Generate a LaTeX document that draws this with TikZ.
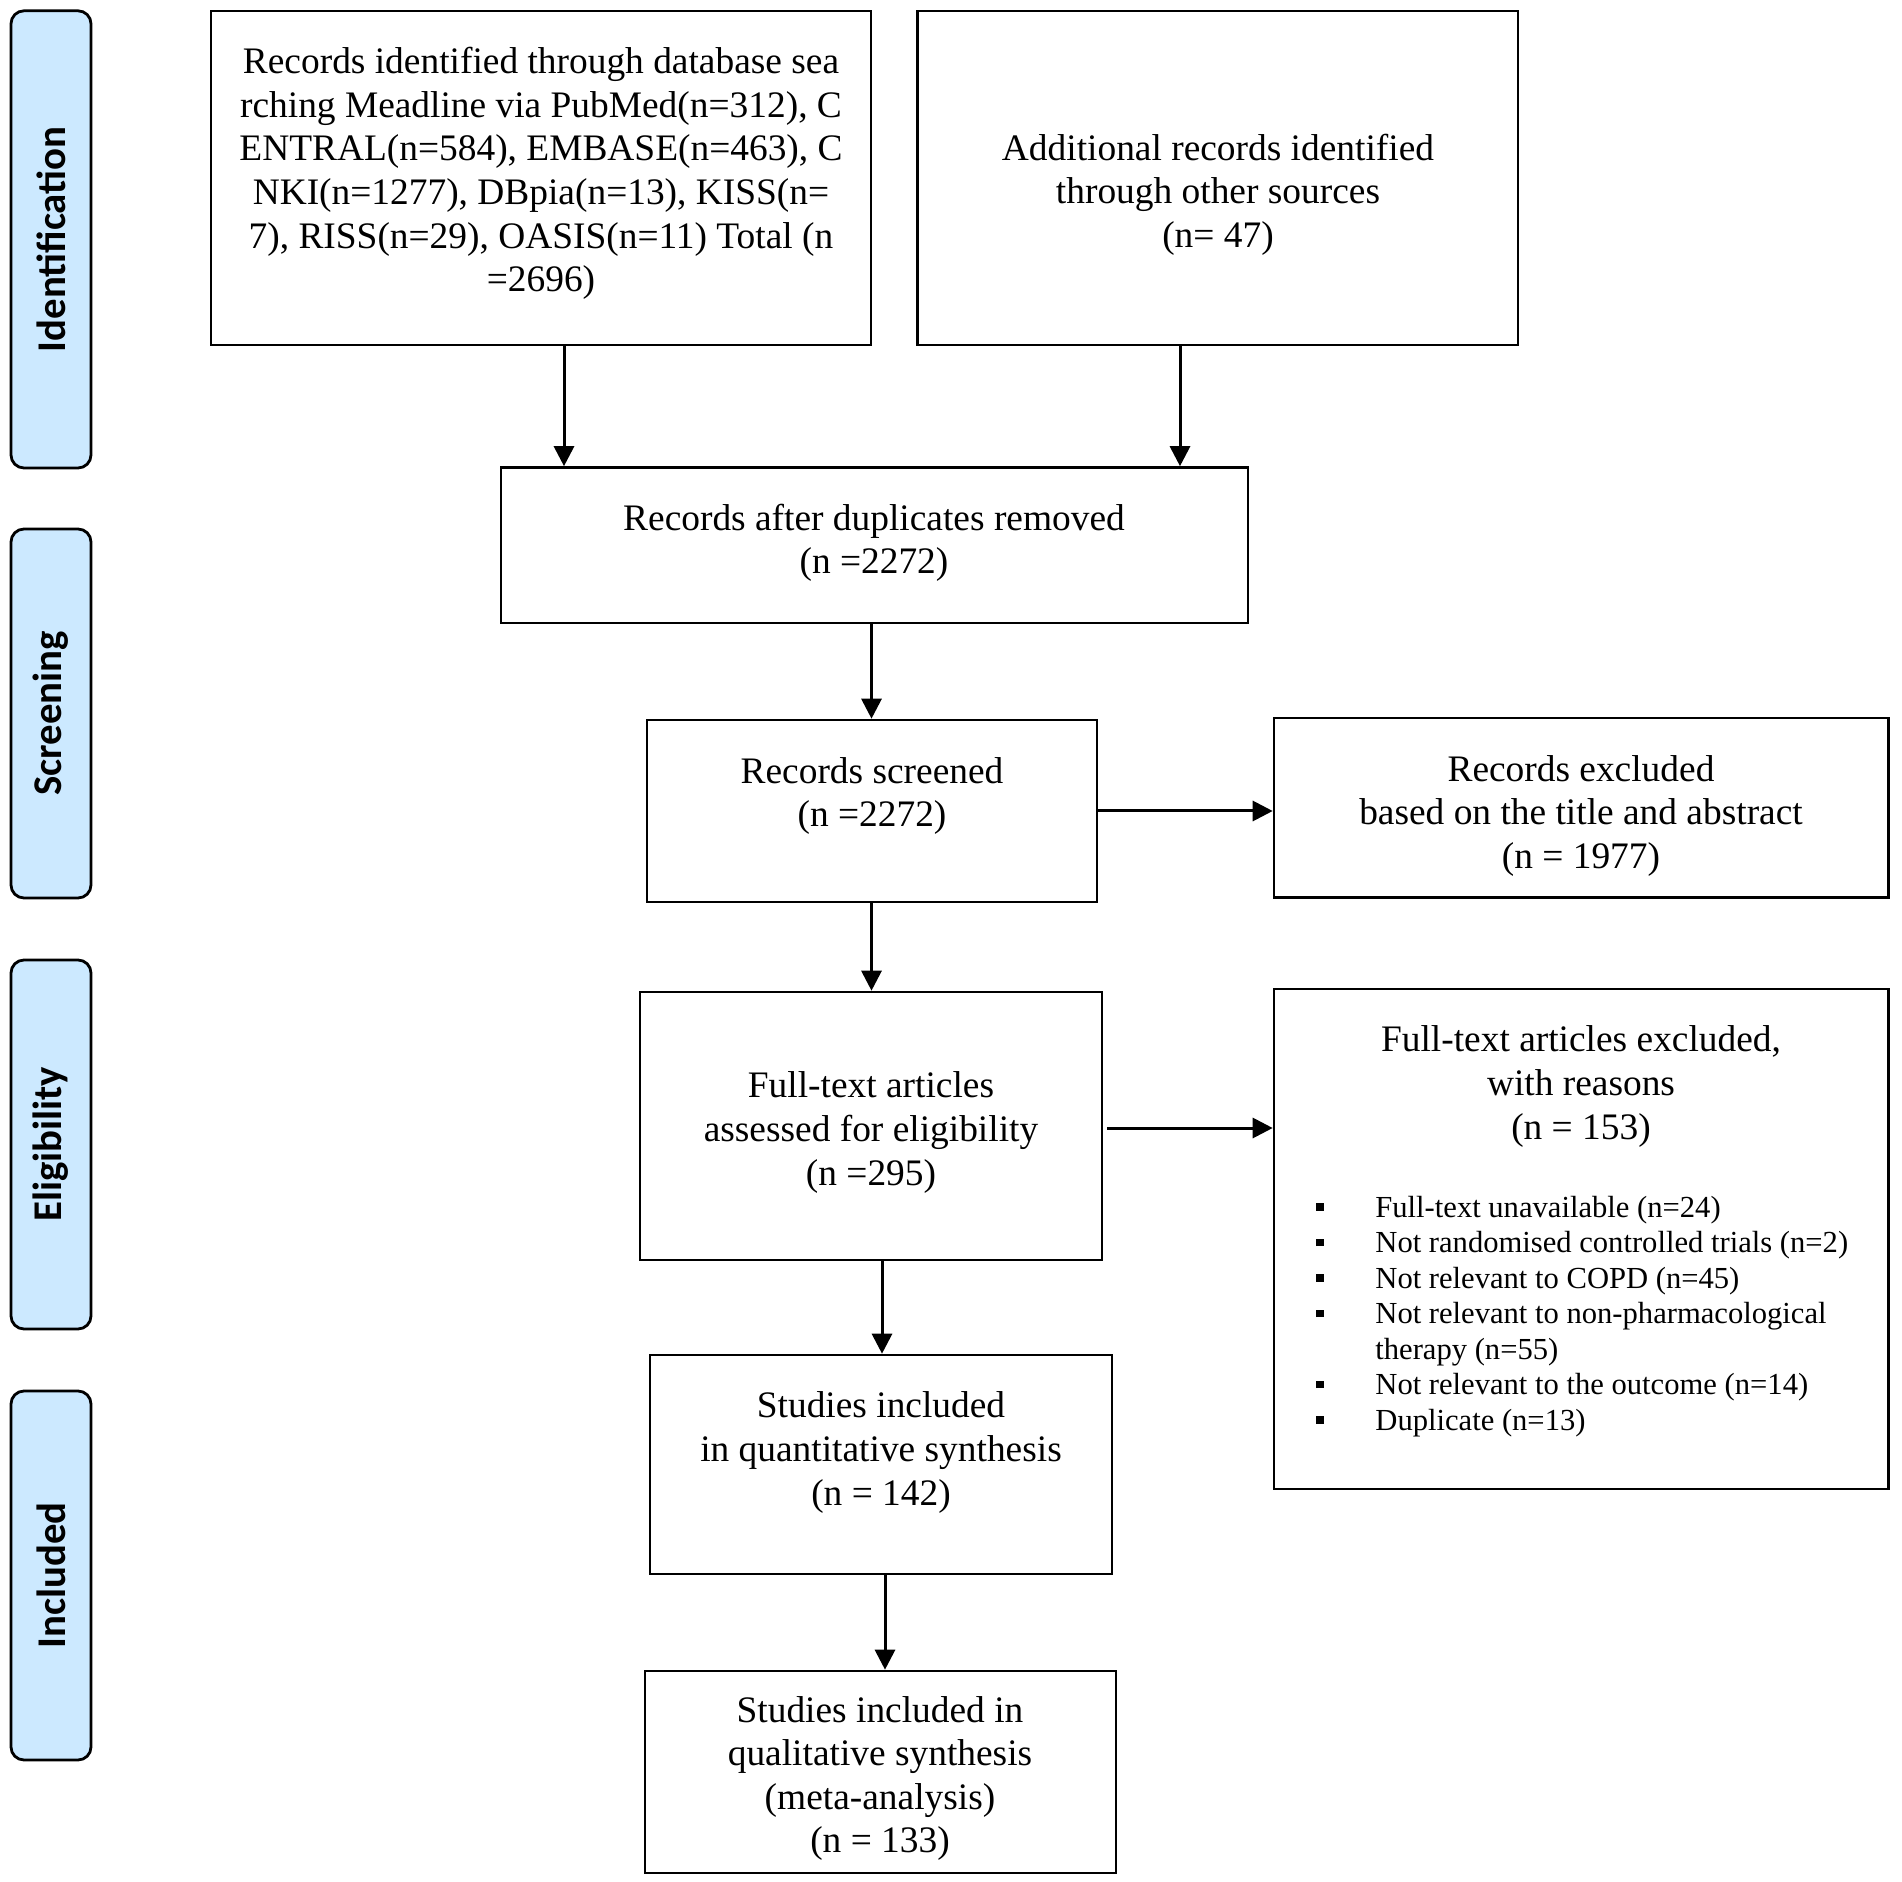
\documentclass[tikz,border=0pt]{standalone}
\usepackage{fontspec}
\setmainfont{Liberation Serif}
\newfontfamily\labfont{Carlito}
\usetikzlibrary{arrows.meta}
\definecolor{sideblue}{RGB}{204,233,255}
\newcommand{\bul}{\makebox[29.5pt][l]{\rule[3.2pt]{3.6pt}{3.6pt}}}
\tikzset{
  box/.style={draw=black, line width=1.3pt, inner sep=0pt, rectangle},
  sidebox/.style={draw=black, fill=sideblue, line width=1.4pt, rounded corners=6.5pt,
    rotate=90, minimum height=40pt, inner sep=0pt, font=\labfont\bfseries\fontsize{20.4}{24}\selectfont},
  txt/.style={align=center, inner sep=0pt, font=\fontsize{18.7}{21.8}\selectfont},
  arr/.style={-{Triangle[length=10pt,width=10pt]}, line width=1.5pt},
}
\begin{document}
\begin{tikzpicture}[x=0.5pt,y=-0.5pt]
\useasboundingbox (0,0) rectangle (1902,1882);
% side labels
\node[sidebox, minimum width=228.6pt] (s1) at (51,239.4) {Identification};
\node[sidebox, minimum width=184.5pt] (s2) at (51,713.5) {Screening};
\node[sidebox, minimum width=184.5pt] (s3) at (51,1144.5) {Eligibility};
\node[sidebox, minimum width=184.5pt] (s4) at (51,1575.5) {Included};
% boxes
\node[box, minimum width=330pt, minimum height=167pt] (b1) at (541,178) {};
\node[box, minimum width=300.25pt, minimum height=167pt] (b2) at (1217.75,178) {};
\node[box, minimum width=373.5pt, minimum height=77.75pt] (dup) at (874.5,545.25) {};
\node[box, minimum width=225pt, minimum height=91pt] (scr) at (872,811) {};
\node[box, minimum width=307.25pt, minimum height=89.75pt] (ex1) at (1581.25,807.75) {};
\node[box, minimum width=231pt, minimum height=134pt] (ft) at (871,1126) {};
\node[box, minimum width=307.25pt, minimum height=250pt] (ex2) at (1581.25,1239) {};
\node[box, minimum width=231pt, minimum height=109.5pt] (sq) at (881,1464.5) {};
\node[box, minimum width=235.5pt, minimum height=101pt] (ql) at (880.5,1772) {};
% texts
\node[txt] (t1) at (541,173.5) {Records identified through database sea\\rching Meadline via PubMed(n=312), C\\ENTRAL(n=584), EMBASE(n=463), C\\NKI(n=1277), DBpia(n=13), KISS(n=\\7), RISS(n=29), OASIS(n=11) Total (n\\=2696)};
\node[txt] (t2) at (1218,194.5) {Additional records identified\\through other sources\\(n= 47)};
\node[txt] (t3) at (874,543) {Records after duplicates removed\\(n =2272)};
\node[txt] (t4) at (872,796) {Records screened\\(n =2272)};
\node[txt] (t5) at (1581,816) {Records excluded\\based on the title and abstract\\(n = 1977)};
\node[txt] (t6) at (871,1132.5) {Full-text articles\\assessed for eligibility\\(n =295)};
\node[txt] (t7) at (1581,1086.5) {Full-text articles excluded,\\with reasons\\(n = 153)};
\node[txt] (t8) at (881,1452.5) {Studies included\\in quantitative synthesis\\(n = 142)};
\node[txt] (t9) at (880,1778.5) {Studies included in\\qualitative synthesis\\(meta-analysis)\\(n = 133)};
\node[anchor=base west, inner sep=0pt, font=\fontsize{15.3}{17.75}\selectfont] (lst) at (1316,1217) {%
\begin{tabular}[t]{@{}l@{}}
\bul Full-text unavailable (n=24)\\
\bul Not randomised controlled trials (n=2)\\
\bul Not relevant to COPD (n=45)\\
\bul Not relevant to non-pharmacological\\
\hspace*{29.5pt}therapy (n=55)\\
\bul Not relevant to the outcome (n=14)\\
\bul Duplicate (n=13)
\end{tabular}};
% arrow positions
\coordinate (a1) at (564,0);
\coordinate (a2) at (1180,0);
\coordinate (a3) at (871.5,0);
\coordinate (a4) at (882,0);
\coordinate (a5) at (885,0);
\coordinate (h1) at (0,811);
\coordinate (h2) at (0,1128);
\draw[arr] (b1.south -| a1) -- (dup.north -| a1);
\draw[arr] (b2.south -| a2) -- (dup.north -| a2);
\draw[arr] (dup.south -| a3) -- (scr.north -| a3);
\draw[arr] (scr.east |- h1) -- (ex1.west |- h1);
\draw[arr] (scr.south -| a3) -- (ft.north -| a3);
\draw[arr] ([xshift=2pt]ft.east |- h2) -- (ex2.west |- h2);
\draw[arr] (ft.south -| a4) -- (sq.north -| a4);
\draw[arr] (sq.south -| a5) -- (ql.north -| a5);
\end{tikzpicture}
\end{document}
